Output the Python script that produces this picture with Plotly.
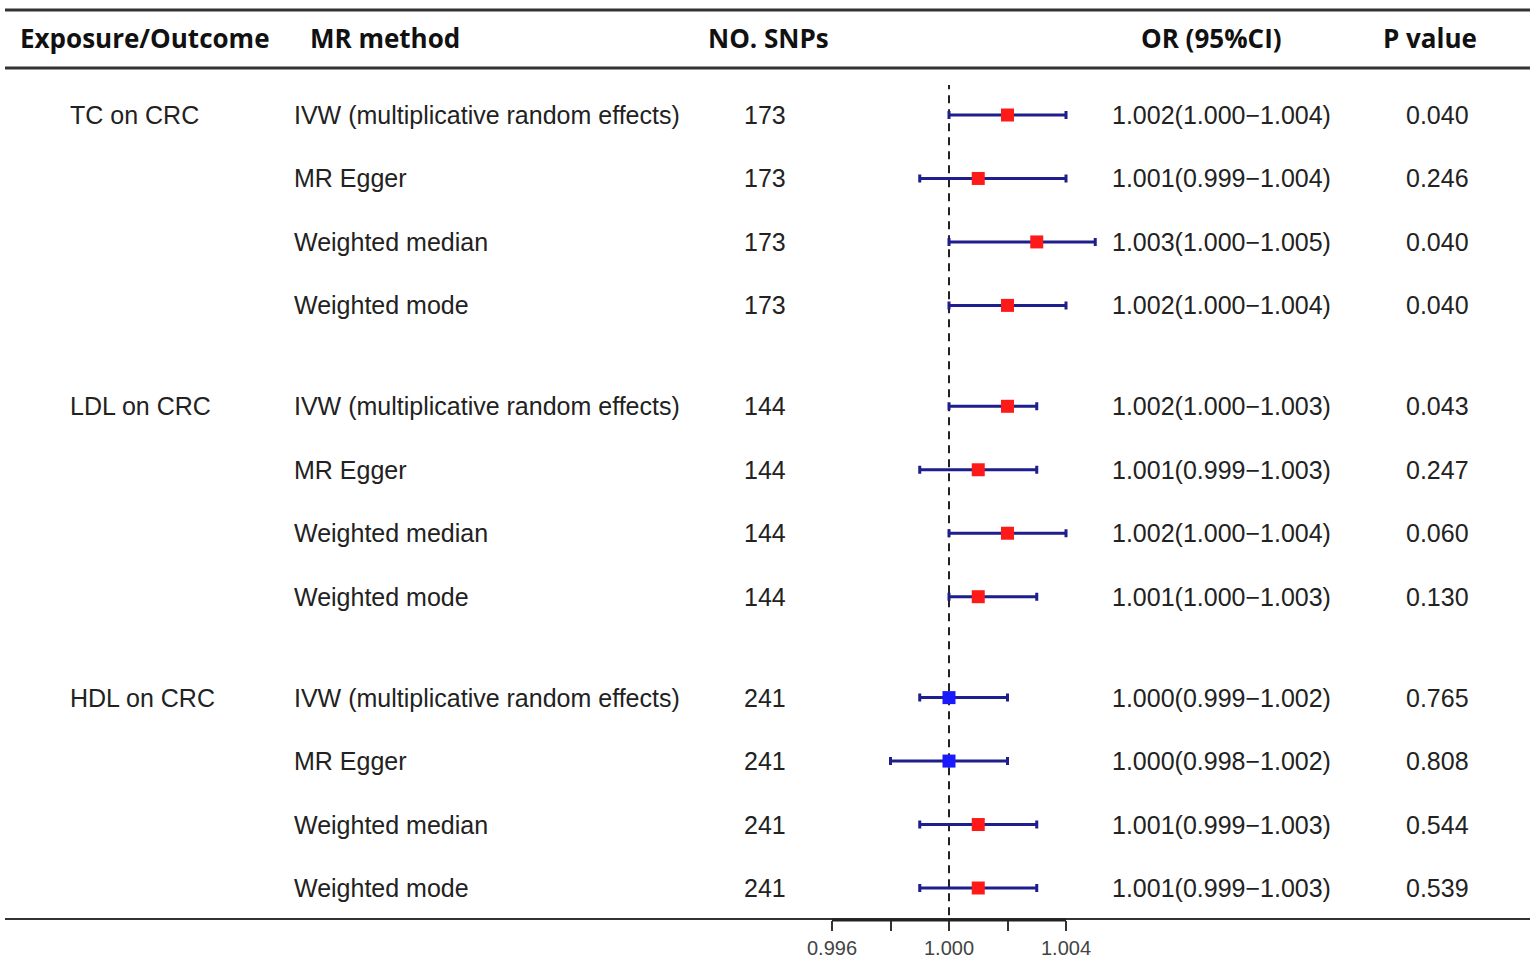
import plotly.graph_objects as go

# ---------------- data ----------------
groups = ["TC on CRC", "LDL on CRC", "HDL on CRC"]
methods = ["IVW (multiplicative random effects)", "MR Egger", "Weighted median", "Weighted mode"]
n_snps = [173, 173, 173, 173, 144, 144, 144, 144, 241, 241, 241, 241]
or_est = [1.002, 1.001, 1.003, 1.002, 1.002, 1.001, 1.002, 1.001, 1.000, 1.000, 1.001, 1.001]
ci_lo = [1.000, 0.999, 1.000, 1.000, 1.000, 0.999, 1.000, 1.000, 0.999, 0.998, 0.999, 0.999]
ci_hi = [1.004, 1.004, 1.005, 1.004, 1.003, 1.003, 1.004, 1.003, 1.002, 1.002, 1.003, 1.003]
p_values = ["0.040", "0.246", "0.040", "0.040", "0.043", "0.247", "0.060", "0.130",
            "0.765", "0.808", "0.544", "0.539"]
headers = ["Exposure/Outcome", "MR method", "NO. SNPs", "OR (95%CI)", "P value"]
tick_vals = [0.996, 0.998, 1.000, 1.002, 1.004]
tick_text = ["0.996", "", "1.000", "", "1.004"]

# ---------------- layout helpers ----------------
W, H = 1535, 960
MB = 40
PH = H - MB
GROUP_STEP = 4.59
n_methods = len(methods)
ypos = [g * GROUP_STEP + k for g in range(len(groups)) for k in range(n_methods)]

px_per_row = (888 - 115) / (2 * GROUP_STEP + 3)
y_top = -115 / px_per_row
y_bot = (PH - 115) / px_per_row

# x scale: 0.996 -> 832px, 1.004 -> 1066px
sx = (1066 - 832) / 0.008
x0 = 0.996 - 832 / sx
x1 = x0 + W / sx

def px_to_x(px):
    return px / W

def py_to_paper(py):
    return 1 - py / PH

BODY = "Liberation Sans, Arial, sans-serif"
HEAD = "Open Sans, Lato, sans-serif"
TXT = "#222222"
NAVY = "#1e1e8c"
FS = 25

colors = ["#ff1a1a" if e > 1.0 else "#1a1aff" for e in or_est]

fig = go.Figure()
fig.add_trace(go.Scatter(
    x=or_est, y=ypos, mode="markers",
    marker=dict(symbol="square", size=13, color=colors, line=dict(width=0)),
    error_x=dict(type="data", symmetric=False,
                 array=[h - e for h, e in zip(ci_hi, or_est)],
                 arrayminus=[e - l for e, l in zip(or_est, ci_lo)],
                 color=NAVY, thickness=3, width=4),
    showlegend=False, hoverinfo="skip",
))

ann = []
# headers
head_pos = [(145, "center"), (308, "left"), (768, "center"), (1211, "center"), (1430, "center")]
for txt, (px, al) in zip(headers, head_pos):
    ann.append(dict(x=px_to_x(px), xref="paper", y=py_to_paper(38), yref="paper",
                    text=f"<b>{txt}</b>", showarrow=False, xanchor=al, yanchor="middle",
                    font=dict(family=HEAD, size=26, color="#111111")))
# group labels
for g, name in enumerate(groups):
    ann.append(dict(x=px_to_x(68), xref="paper", y=ypos[g * n_methods], yref="y",
                    text=name, showarrow=False, xanchor="left", yanchor="middle",
                    font=dict(family=BODY, size=FS, color=TXT)))
# rows
for i in range(len(or_est)):
    m = methods[i % n_methods]
    y = ypos[i]
    ann.append(dict(x=px_to_x(292), xref="paper", y=y, yref="y", text=m, showarrow=False,
                    xanchor="left", yanchor="middle", font=dict(family=BODY, size=FS, color=TXT)))
    ann.append(dict(x=px_to_x(765), xref="paper", y=y, yref="y", text=str(n_snps[i]),
                    showarrow=False, xanchor="center", yanchor="middle",
                    font=dict(family=BODY, size=FS, color=TXT)))
    or_txt = f"{or_est[i]:.3f}({ci_lo[i]:.3f}\u2212{ci_hi[i]:.3f})"
    ann.append(dict(x=px_to_x(1221), xref="paper", y=y, yref="y", text=or_txt,
                    showarrow=False, xanchor="center", yanchor="middle",
                    font=dict(family=BODY, size=FS, color=TXT)))
    ann.append(dict(x=px_to_x(1437), xref="paper", y=y, yref="y", text=p_values[i],
                    showarrow=False, xanchor="center", yanchor="middle",
                    font=dict(family=BODY, size=FS, color=TXT)))

shapes = [
    # table rules
    dict(type="line", xref="paper", yref="paper", x0=px_to_x(5), x1=px_to_x(1530),
         y0=py_to_paper(10), y1=py_to_paper(10), line=dict(color="#333333", width=3)),
    dict(type="line", xref="paper", yref="paper", x0=px_to_x(5), x1=px_to_x(1530),
         y0=py_to_paper(68), y1=py_to_paper(68), line=dict(color="#333333", width=3)),
    dict(type="line", xref="paper", yref="paper", x0=px_to_x(5), x1=px_to_x(1530),
         y0=0.001, y1=0.001, line=dict(color="#333333", width=2)),
    # axis line
    dict(type="line", xref="x", yref="paper", x0=tick_vals[0], x1=tick_vals[-1],
         y0=0, y1=0, line=dict(color="#222222", width=3)),
    # reference line
    dict(type="line", xref="x", yref="paper", x0=1.0, x1=1.0,
         y0=-0.01, y1=py_to_paper(85), line=dict(color="#222222", width=2, dash="8px,6px"),
         layer="below"),
]

fig.update_layout(
    width=W, height=H,
    margin=dict(l=0, r=0, t=0, b=MB),
    paper_bgcolor="white", plot_bgcolor="white",
    xaxis=dict(range=[x0, x1], tickvals=tick_vals, ticktext=tick_text,
               ticks="outside", ticklen=10, tickwidth=2, tickcolor="#333333",
               showgrid=False, zeroline=False, showline=False,
               tickfont=dict(family=BODY, size=20, color="#444444")),
    yaxis=dict(range=[y_bot, y_top], visible=False, showgrid=False, zeroline=False),
    annotations=ann, shapes=shapes,
)

fig.write_html("out.html", config={"displayModeBar": False},
               post_script="document.body.style.margin='0';document.body.style.overflow='hidden';")
